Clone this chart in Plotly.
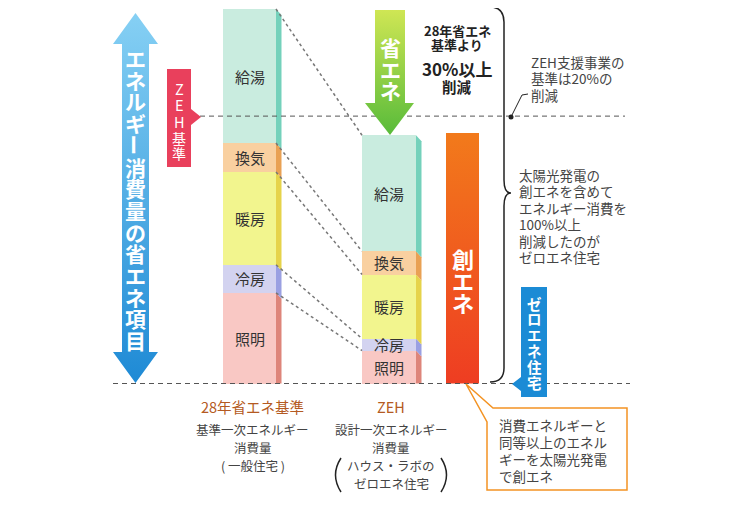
import plotly.graph_objects as go

# ---------------- data ----------------
categories = ["給湯", "換気", "暖房", "冷房", "照明"]
standard_values = [35.8, 7.7, 24.8, 7.5, 24.2]   # 28年省エネ基準 (total = 100)
zeh_values = [31.0, 6.2, 17.1, 3.2, 8.8]          # ZEH
zeh_standard_level = 71.4                         # ZEH基準
solar_value = 66.9                                # 創エネ
bar_titles = ["28年省エネ基準", "ZEH"]
bar_subtitles = [["基準一次エネルギー", "消費量", "( 一般住宅 )"],
                 ["設計一次エネルギー", "消費量", "ハウス・ラボの", "ゼロエネ住宅"]]

# ---------------- styles ----------------
front_colors = ["#c9ecdf", "#f9d0a0", "#f2f58e", "#d3d3f0", "#f9c8c4"]
side_colors = ["#74d1bb", "#e9a154", "#e6d34a", "#9aa0e2", "#de857a"]
FONT = "Noto Sans CJK JP"

BASE_PX = 383.5
K = 3.745
OFF = 8  # page body margin


def py(p):
    return (BASE_PX - p) / K


X_STD, W_STD = 249.5, 53
X_ZEH, W_ZEH = 389, 54
SIDE = 5.5
D = 6 / K

fig = go.Figure()

# stacked bars (bottom first)
order = list(range(len(categories)))[::-1]
segs_std, segs_zeh = {}, {}
cs = cz = 0.0
for i in order:
    segs_std[i] = (cs, cs + standard_values[i])
    segs_zeh[i] = (cz, cz + zeh_values[i])
    cs += standard_values[i]
    cz += zeh_values[i]
    fig.add_trace(go.Bar(x=[X_STD, X_ZEH], y=[standard_values[i], zeh_values[i]],
                         width=[W_STD, W_ZEH], marker=dict(color=front_colors[i], line=dict(width=0)),
                         hoverinfo="skip", name=categories[i]))

# side faces
for xc, w, segs in [(X_STD, W_STD, segs_std), (X_ZEH, W_ZEH, segs_zeh)]:
    x1 = xc + w / 2
    for i in order:
        b, t = segs[i]
        fig.add_trace(go.Scatter(x=[x1, x1 + SIDE, x1 + SIDE, x1, x1],
                                 y=[t, t - D, max(b - D, 0), b, t],
                                 fill="toself", fillcolor=side_colors[i], mode="lines",
                                 line=dict(width=0), hoverinfo="skip"))

# connectors between bars
for i in range(len(categories)):
    fig.add_trace(go.Scatter(x=[X_STD + W_STD / 2, X_ZEH - W_ZEH / 2],
                             y=[segs_std[i][1], segs_zeh[i][1]], mode="lines",
                             line=dict(color="#777", width=1.5, dash="dot"), hoverinfo="skip"))

# solar bar (gradient)
xs0, xs1 = 446, 479
fig.add_trace(go.Scatter(x=[xs0, xs1, xs1, xs0, xs0], y=[0, 0, solar_value, solar_value, 0],
                         fill="toself", mode="lines", line=dict(width=0),
                         fillgradient=dict(type="vertical", colorscale=[[0, "#ee3d22"], [1, "#f27a1b"]]),
                         hoverinfo="skip"))

# horizontal dashed lines
fig.add_trace(go.Scatter(x=[200, 625], y=[zeh_standard_level] * 2, mode="lines",
                         line=dict(color="#555", width=1, dash="5px,4px"), hoverinfo="skip"))
fig.add_trace(go.Scatter(x=[113, 630], y=[0, 0], mode="lines",
                         line=dict(color="#555", width=1, dash="5px,4px"), hoverinfo="skip"))


def poly(pts, **kw):
    xs = [p[0] for p in pts] + [pts[0][0]]
    ys = [py(p[1]) for p in pts] + [py(pts[0][1])]
    fig.add_trace(go.Scatter(x=xs, y=ys, fill="toself", mode="lines", hoverinfo="skip", **kw))


# left big double arrow
poly([(135.5, 13), (158, 44), (149, 44), (149, 352), (158, 352), (135.5, 383),
      (113, 352), (122, 352), (122, 44), (113, 44)],
     line=dict(width=0),
     fillgradient=dict(type="vertical", colorscale=[[0, "#1e8ad5"], [1, "#86d0f4"]]))

# green arrow
poly([(375, 10), (405, 10), (405, 103), (414, 103), (390, 135), (365, 103), (375, 103)],
     line=dict(width=0),
     fillgradient=dict(type="vertical", colorscale=[[0, "#58bb3a"], [1, "#cfe654"]]))

# ZEH基準 badge
poly([(167, 69), (191, 69), (191, 109), (201, 117), (191, 125), (191, 167), (167, 167)],
     line=dict(width=0), fillcolor="#e9405c")

# ゼロエネ住宅 badge
poly([(521, 287), (547, 287), (547, 397), (521, 397), (521, 391), (512, 384), (521, 377)],
     line=dict(width=0), fillcolor="#1b8bd5")

# callout box
poly([(466, 384), (493, 408), (627, 408), (627, 490), (487, 490), (487, 422)],
     line=dict(width=1.5, color="#f39323"), fillcolor="white")

# leader for ZEH支援
fig.add_trace(go.Scatter(x=[511, 522, 528], y=[py(117), py(95), py(94)], mode="lines",
                         line=dict(color="#222", width=1), hoverinfo="skip"))
fig.add_trace(go.Scatter(x=[511], y=[py(117)], mode="markers",
                         marker=dict(color="#222", size=5), hoverinfo="skip"))


def path(d):
    fig.add_shape(type="path", path=d, xref="x", yref="y", line=dict(color="#222", width=1.5))


# brace
path(f"M 490 {py(7)} Q 504 {py(7)} 504 {py(22)} L 504 {py(180)} Q 504 {py(193)} 511 {py(193)} "
     f"Q 504 {py(193)} 504 {py(206)} L 504 {py(368)} Q 504 {py(382)} 490 {py(382)}")
# parentheses
path(f"M 341 {py(458)} Q 330 {py(475)} 341 {py(492)}")
path(f"M 441 {py(458)} Q 452 {py(475)} 441 {py(492)}")


def txt(s, x, ypx, size, color="#333", bold=False, anchor="center", angle=0):
    fig.add_annotation(x=x, y=py(ypx), text=f"<b>{s}</b>" if bold else s, showarrow=False,
                       font=dict(size=size, color=color, family=FONT), xanchor=anchor,
                       yanchor="middle", textangle=angle)


def vtext(s, x, y0, pitch, size, color="white", bold=True):
    for j, ch in enumerate(s):
        txt(ch, x, y0 + j * pitch, size, color, bold, angle=90 if ch == "ー" else 0)


# segment labels
for i in range(len(categories)):
    b, t = segs_std[i]
    fig.add_annotation(x=X_STD, y=(b + t) / 2, text=categories[i], showarrow=False,
                       font=dict(size=15, color="#333", family=FONT))
    b, t = segs_zeh[i]
    fig.add_annotation(x=X_ZEH, y=(b + t) / 2, text=categories[i], showarrow=False,
                       font=dict(size=15, color="#333", family=FONT))

vtext("エネルギー消費量の省エネ項目", 135.5, 58, 21.7, 21)
vtext("省エネ", 390, 47, 21.5, 21)
vtext("創エネ", 462.5, 258, 22, 22)
vtext("ZEH", 179, 88, 16.5, 14.5, bold=False)
vtext("基準", 179, 137.5, 15.5, 14, bold=False)
vtext("ゼロエネ住宅", 534, 303, 15.8, 14.5)

# top annotation
txt("28年省エネ", 457, 30, 13, "#222", True)
txt("基準より", 457, 44, 13, "#222", True)
txt("30%以上", 457, 68, 17, "#222", True)
txt("削減", 457, 86, 14.5, "#222", True)

for j, s in enumerate(["ZEH支援事業の", "基準は20%の", "削減"]):
    txt(s, 529, 62 + j * 16.3, 13.5, "#444", anchor="left")

for j, s in enumerate(["太陽光発電の", "創エネを含めて", "エネルギー消費を", "100%以上",
                       "削減したのが", "ゼロエネ住宅"]):
    txt(s, 517, 175 + j * 16.4, 13.5, "#444", anchor="left")

for j, s in enumerate(["消費エネルギーと", "同等以上のエネル", "ギーを太陽光発電", "で創エネ"]):
    txt(s, 497, 425 + j * 17, 13.5, "#444", anchor="left")

# bottom labels
for xc, title, subs in [(X_STD + 3, bar_titles[0], bar_subtitles[0]),
                        (X_ZEH + 2, bar_titles[1], bar_subtitles[1])]:
    txt(title, xc, 406, 14.5, "#b45a22")
    for j, s in enumerate(subs):
        txt(s, xc, 429 + j * 18, 12.5, "#444")

# the page has an 8px body margin: shift the visible window accordingly
fig.update_layout(width=750 - OFF, height=505 - OFF, margin=dict(l=0, r=0, t=0, b=0),
                  paper_bgcolor="white", plot_bgcolor="white", showlegend=False,
                  barmode="stack", bargap=0,
                  xaxis=dict(range=[OFF, 750], visible=False, fixedrange=True),
                  yaxis=dict(range=[py(505), py(OFF)], visible=False, fixedrange=True))

fig.write_html("out.html")
